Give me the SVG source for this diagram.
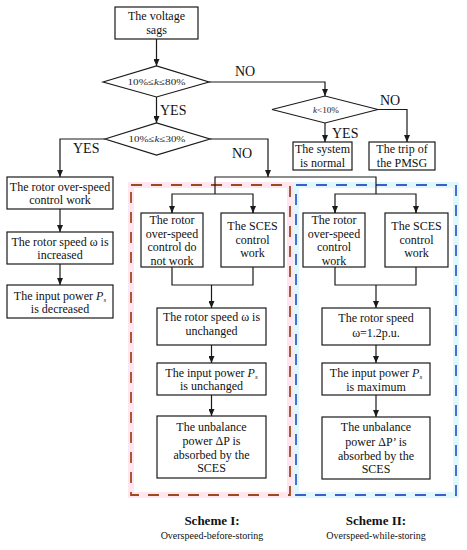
<svg xmlns="http://www.w3.org/2000/svg" width="467" height="550" viewBox="0 0 467 550">
<style>
.box{fill:#fff;stroke:#1a1a1a;stroke-width:1.2}
.dia{fill:#fff;stroke:#1a1a1a;stroke-width:1.2}
.ln{fill:none;stroke:#1a1a1a;stroke-width:1.2}
.t{font-family:"Liberation Serif","Times New Roman",serif;font-size:12px;fill:#111;text-anchor:middle}
.d{font-family:"Liberation Serif","Times New Roman",serif;font-size:9px;fill:#222;text-anchor:middle}
.lab{font-family:"Liberation Serif","Times New Roman",serif;font-size:14px;fill:#111}
.h{font-family:"Liberation Serif","Times New Roman",serif;font-size:13px;font-weight:bold;fill:#111;text-anchor:middle}
.s{font-family:"Liberation Serif","Times New Roman",serif;font-size:10px;fill:#111;text-anchor:middle}
</style>
<defs>
<marker id="ar" markerUnits="userSpaceOnUse" markerWidth="7" markerHeight="6" refX="7" refY="3" orient="auto">
<path d="M0,0 L7,3 L0,6 z" fill="#1a1a1a"/>
</marker>
</defs>
<g id="schemes">
<rect x="131" y="185" width="159" height="310" fill="none" stroke="#ffe6f1" stroke-width="6"/>
<rect x="131" y="185" width="159" height="310" fill="none" stroke="#9c4a22" stroke-width="1.8" stroke-dasharray="11 9"/>
<rect x="296" y="185" width="160" height="310" fill="none" stroke="#e0f7fd" stroke-width="6"/>
<rect x="296" y="185" width="160" height="310" fill="none" stroke="#3a5fc8" stroke-width="1.8" stroke-dasharray="11 9"/>
</g>
<g id="connectors">
<path class="ln" d="M156.5,39 V66" marker-end="url(#ar)"/>
<path class="ln" d="M209,82 H325 V96" marker-end="url(#ar)"/>
<path class="ln" d="M325,123 V142" marker-end="url(#ar)"/>
<path class="ln" d="M378,109.5 H407 V142" marker-end="url(#ar)"/>
<path class="ln" d="M156.5,97 V123" marker-end="url(#ar)"/>
<path class="ln" d="M105,139 H60 V177" marker-end="url(#ar)"/>
<path class="ln" d="M210,139 H268 V177" marker-end="url(#ar)"/>
<path class="ln" d="M215,194 V177 H376 V194"/>
<path class="ln" d="M172,213 V194 H253 V213"/>
<path class="ln" d="M172,207 V213" marker-end="url(#ar)"/>
<path class="ln" d="M253,207 V213" marker-end="url(#ar)"/>
<path class="ln" d="M335,213 V194 H416 V213"/>
<path class="ln" d="M335,207 V213" marker-end="url(#ar)"/>
<path class="ln" d="M416,207 V213" marker-end="url(#ar)"/>
<path class="ln" d="M172,267 V285 H253 V267"/>
<path class="ln" d="M211.5,285 V308" marker-end="url(#ar)"/>
<path class="ln" d="M335,267 V285 H416 V267"/>
<path class="ln" d="M376,285 V308" marker-end="url(#ar)"/>
<path class="ln" d="M211.5,345 V363" marker-end="url(#ar)"/>
<path class="ln" d="M211.5,395 V416" marker-end="url(#ar)"/>
<path class="ln" d="M376,345 V363" marker-end="url(#ar)"/>
<path class="ln" d="M376,395 V417" marker-end="url(#ar)"/>
<path class="ln" d="M60,209 V232" marker-end="url(#ar)"/>
<path class="ln" d="M60,264 V285" marker-end="url(#ar)"/>
</g>
<g id="labels">
<text class="lab" x="235" y="76">NO</text>
<text class="lab" x="160" y="115">YES</text>
<text class="lab" x="380" y="105">NO</text>
<text class="lab" x="332" y="138">YES</text>
<text class="lab" x="73" y="153">YES</text>
<text class="lab" x="232" y="158">NO</text>
</g>
<g id="n-sag">
<rect class="box" x="115" y="7" width="83" height="32"/>
<text class="t" x="156.5" y="20">The voltage</text>
<text class="t" x="156.5" y="34">sags</text>
</g>
<g id="n-d1">
<polygon class="dia" points="103,82 156.5,66 209,82 156.5,97"/>
<text class="d" x="156.5" y="85" textLength="58" lengthAdjust="spacingAndGlyphs">10%≤<tspan font-style="italic">k</tspan>≤80%</text>
</g>
<g id="n-d2">
<polygon class="dia" points="272,109.5 325,96 378,109.5 325,123"/>
<text class="d" x="326" y="112.5" textLength="26" lengthAdjust="spacingAndGlyphs"><tspan font-style="italic">k</tspan>&lt;10%</text>
</g>
<g id="n-normal">
<rect class="box" x="293" y="142" width="59" height="28"/>
<text class="t" x="322.5" y="153">The system</text>
<text class="t" x="322.5" y="167">is normal</text>
</g>
<g id="n-trip">
<rect class="box" x="369" y="142" width="66" height="28"/>
<text class="t" x="402" y="153">The trip of</text>
<text class="t" x="402" y="167">the PMSG</text>
</g>
<g id="n-d3">
<polygon class="dia" points="105,139 156.5,123 210,139 156.5,155"/>
<text class="d" x="157" y="142" textLength="57" lengthAdjust="spacingAndGlyphs">10%≤<tspan font-style="italic">k</tspan>≤30%</text>
</g>
<g id="n-l1">
<rect class="box" x="7" y="177" width="106" height="32"/>
<text class="t" x="60" y="191">The rotor over-speed</text>
<text class="t" x="60" y="204">control work</text>
</g>
<g id="n-l2">
<rect class="box" x="7" y="232" width="106" height="32"/>
<text class="t" x="60" y="246">The rotor speed ω is</text>
<text class="t" x="60" y="259">increased</text>
</g>
<g id="n-l3">
<rect class="box" x="7" y="285" width="106" height="33"/>
<text class="t" x="60" y="300">The input power <tspan font-style="italic">P</tspan><tspan font-style="italic" font-size="7" dy="2">s</tspan></text>
<text class="t" x="60" y="313">is decreased</text>
</g>
<g id="n-a1">
<rect class="box" x="141" y="213" width="62" height="54"/>
<text class="t" x="172" y="224">The rotor</text>
<text class="t" x="172" y="237.5">over-speed</text>
<text class="t" x="172" y="251">control do</text>
<text class="t" x="172" y="264.5">not work</text>
</g>
<g id="n-a2">
<rect class="box" x="221" y="213" width="63" height="54"/>
<text class="t" x="252.5" y="230">The SCES</text>
<text class="t" x="252.5" y="244">control</text>
<text class="t" x="252.5" y="257">work</text>
</g>
<g id="n-a3">
<rect class="box" x="157" y="308" width="109" height="37"/>
<text class="t" x="211.5" y="321">The rotor speed ω  is</text>
<text class="t" x="211.5" y="335">unchanged</text>
</g>
<g id="n-a4">
<rect class="box" x="157" y="363" width="109" height="32"/>
<text class="t" x="211.5" y="377">The input power <tspan font-style="italic">P</tspan><tspan font-style="italic" font-size="7" dy="2">s</tspan></text>
<text class="t" x="211.5" y="390">is unchanged</text>
</g>
<g id="n-a5">
<rect class="box" x="157" y="416" width="109" height="62"/>
<text class="t" x="211.5" y="431">The unbalance</text>
<text class="t" x="211.5" y="445">power ΔP is</text>
<text class="t" x="211.5" y="459">absorbed by the</text>
<text class="t" x="211.5" y="472">SCES</text>
</g>
<g id="n-b1">
<rect class="box" x="303" y="213" width="62" height="54"/>
<text class="t" x="334" y="224">The rotor</text>
<text class="t" x="334" y="237.5">over-speed</text>
<text class="t" x="334" y="251">control</text>
<text class="t" x="334" y="264.5">work</text>
</g>
<g id="n-b2">
<rect class="box" x="385" y="213" width="63" height="54"/>
<text class="t" x="416.5" y="230">The SCES</text>
<text class="t" x="416.5" y="244">control</text>
<text class="t" x="416.5" y="257">work</text>
</g>
<g id="n-b3">
<rect class="box" x="322" y="308" width="108" height="37"/>
<text class="t" x="376" y="322">The rotor speed</text>
<text class="t" x="376" y="337">ω=1.2p.u.</text>
</g>
<g id="n-b4">
<rect class="box" x="322" y="363" width="108" height="32"/>
<text class="t" x="376" y="377">The input power <tspan font-style="italic">P</tspan><tspan font-style="italic" font-size="7" dy="2">s</tspan></text>
<text class="t" x="376" y="391">is maximum</text>
</g>
<g id="n-b5">
<rect class="box" x="322" y="417" width="108" height="62"/>
<text class="t" x="376" y="431">The unbalance</text>
<text class="t" x="376" y="446">power ΔP’ is</text>
<text class="t" x="376" y="460">absorbed by the</text>
<text class="t" x="376" y="473">SCES</text>
</g>
<g id="titles">
<text class="h" x="212" y="525">Scheme I:</text>
<text class="s" x="212" y="539">Overspeed-before-storing</text>
<text class="h" x="376" y="525">Scheme II:</text>
<text class="s" x="376" y="539">Overspeed-while-storing</text>
</g>
</svg>
